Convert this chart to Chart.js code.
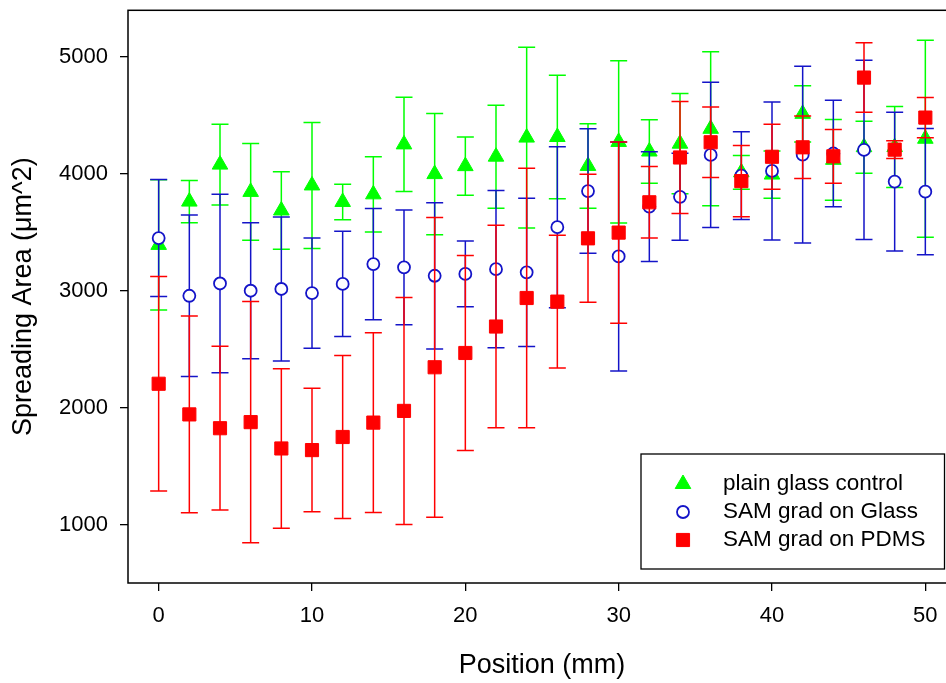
<!DOCTYPE html>
<html>
<head>
<meta charset="utf-8">
<script src="https://cdn.jsdelivr.net/npm/chart.js@4/dist/chart.umd.min.js"></script>
<style>
  html, body { margin: 0; padding: 0; background: #fff; overflow: hidden; }
  #contenedor { position: relative; width: 946px; height: 683px; }
</style>
</head>
<body>
<div id="contenedor"><canvas id="graficoArea"></canvas></div>
<script>
// posiciones (mm)
const posiciones = [0, 2, 4, 6, 8, 10, 12, 14, 16, 18, 20, 22, 24, 26, 28, 30, 32, 34, 36, 38, 40, 42, 44, 46, 48, 50];

// plain glass control
const vidrioMedia = [3395, 3765, 4081, 3848, 3689, 3903, 3762, 3827, 4254, 4000, 4068, 4149, 4312, 4317, 4070, 4275, 4193, 4260, 4387, 4015, 3996, 4515, 4122, 4230, 4231, 4302];
const vidrioError = [557, 180, 346, 414, 332, 538, 152, 322, 403, 518, 248, 440, 773, 528, 361, 694, 271, 428, 658, 145, 202, 240, 345, 222, 346, 842];

// SAM grad on Glass
const samVidrioMedia = [3453, 2960, 3065, 3003, 3018, 2983, 3061, 3231, 3203, 3131, 3147, 3187, 3160, 3546, 3855, 3296, 3722, 3806, 4164, 3987, 4027, 4166, 4176, 4207, 3936, 3850];
const samVidrioError = [500, 690, 763, 582, 615, 471, 450, 475, 490, 625, 281, 672, 634, 688, 532, 979, 469, 372, 621, 375, 590, 755, 455, 765, 593, 540];

// SAM grad on PDMS
const samPdmsMedia = [2208, 1946, 1828, 1880, 1655, 1641, 1753, 1876, 1976, 2349, 2471, 2697, 2941, 2910, 3451, 3500, 3759, 4142, 4272, 3940, 4148, 4229, 4152, 4825, 4209, 4483];
const samPdmsError = [917, 841, 700, 1031, 681, 528, 696, 769, 970, 1281, 833, 865, 1109, 568, 547, 775, 305, 478, 302, 305, 277, 267, 230, 297, 76, 172];

const etiquetas = ["plain glass control", "SAM grad on Glass", "SAM grad on PDMS"];
const ticksX = [0, 10, 20, 30, 40, 50];
const ticksY = [1000, 2000, 3000, 4000, 5000];

const fuente = "'Liberation Sans', Arial, sans-serif";

function puntos(medias) {
  return posiciones.map((p, i) => ({ x: p, y: medias[i] }));
}

// el recuadro del original sigue unos px mas alla del borde derecho
const recorteDerecho = {
  id: "recorteDerecho",
  afterLayout(chart) {
    const x = chart.scales.x;
    const derecha = chart.width + 10;
    x.right = derecha;
    x.width = derecha - x.left;
    chart.chartArea.right = derecha;
    chart.chartArea.width = derecha - chart.chartArea.left;
    x.configure();
  }
};

// barras de error, se dibujan justo antes de los marcadores de cada serie
const barrasError = {
  id: "barrasError",
  beforeDatasetDraw(chart, args) {
    const ds = chart.data.datasets[args.index];
    const { ctx, scales: { x, y } } = chart;
    ctx.save();
    ctx.strokeStyle = ds.borderColor;
    ctx.lineWidth = 1.5;
    ds.errores.forEach((e, i) => {
      const px = x.getPixelForValue(posiciones[i]);
      const arriba = y.getPixelForValue(ds.data[i].y + e);
      const abajo = y.getPixelForValue(ds.data[i].y - e);
      ctx.beginPath();
      ctx.moveTo(px, arriba);
      ctx.lineTo(px, abajo);
      ctx.moveTo(px - 8.5, arriba);
      ctx.lineTo(px + 8.5, arriba);
      ctx.moveTo(px - 8.5, abajo);
      ctx.lineTo(px + 8.5, abajo);
      ctx.stroke();
    });
    ctx.restore();
  }
};

// marco del grafico y leyenda dentro
const marcoLeyenda = {
  id: "marcoLeyenda",
  afterDraw(chart) {
    const { ctx, chartArea: a } = chart;
    ctx.save();
    ctx.strokeStyle = "#000";
    ctx.lineWidth = 1.5;
    ctx.strokeRect(a.left, a.top, a.right - a.left, a.bottom - a.top);

    const caja = { left: 641, top: 454, width: 303.5, height: 115 };
    ctx.lineWidth = 1.3;
    ctx.strokeRect(caja.left, caja.top, caja.width, caja.height);

    ctx.font = "22.5px " + fuente;
    ctx.textBaseline = "middle";
    [...chart.data.datasets].sort((a, b) => b.order - a.order).forEach((ds, i) => {
      const cy = caja.top + 30 + i * 28;
      ctx.strokeStyle = ds.borderColor;
      ctx.fillStyle = ds.backgroundColor;
      ctx.lineWidth = ds.borderWidth;
      Chart.helpers.drawPoint(ctx, {
        pointStyle: ds.pointStyle,
        radius: ds.pointRadius,
        borderWidth: ds.borderWidth,
        rotation: 0
      }, caja.left + 42, cy);
      ctx.fillStyle = "#000";
      ctx.fillText(ds.label, caja.left + 82, cy);
    });
    ctx.restore();
  }
};

const ctx = document.getElementById("graficoArea").getContext("2d");

new Chart(ctx, {
  type: "scatter",
  data: {
    datasets: [
      {
        label: etiquetas[0],
        data: puntos(vidrioMedia),
        errores: vidrioError,
        pointStyle: "triangle",
        pointRadius: 9,
        borderWidth: 1,
        borderColor: "#00ff00",
        backgroundColor: "#00ff00",
        order: 3
      },
      {
        label: etiquetas[1],
        data: puntos(samVidrioMedia),
        errores: samVidrioError,
        pointStyle: "circle",
        pointRadius: 6,
        borderWidth: 1.8,
        borderColor: "#1414c8",
        backgroundColor: "#ffffff",
        order: 2
      },
      {
        label: etiquetas[2],
        data: puntos(samPdmsMedia),
        errores: samPdmsError,
        pointStyle: "rect",
        pointRadius: 9.3,
        borderWidth: 1,
        borderColor: "#ff0000",
        backgroundColor: "#ff0000",
        order: 1
      }
    ]
  },
  options: {
    responsive: true,
    maintainAspectRatio: false,
    animation: false,
    layout: { padding: { top: 7, left: 0, right: 0, bottom: 0 } },
    plugins: {
      legend: { display: false },
      tooltip: { enabled: false }
    },
    scales: {
      x: {
        type: "linear",
        min: -2,
        max: 52,
        afterFit: s => { s.height = 100; s.paddingLeft = 0; s.paddingRight = 0; },
        afterBuildTicks: s => { s.ticks = ticksX.map(v => ({ value: v })); },
        border: { display: false },
        grid: { drawOnChartArea: false, drawTicks: true, tickLength: 8, color: "#000", lineWidth: 1.3 },
        ticks: {
          padding: 12,
          color: "#000",
          font: { family: fuente, size: 22 },
          callback: v => String(v)
        },
        title: {
          display: true,
          text: "Position (mm)",
          color: "#000",
          font: { family: fuente, size: 27 },
          padding: { top: 0, bottom: 1 }
        }
      },
      y: {
        type: "linear",
        min: 505,
        max: 5400,
        afterFit: s => { s.width = 128; s.paddingTop = 0; s.paddingBottom = 0; },
        afterBuildTicks: s => { s.ticks = ticksY.map(v => ({ value: v })); },
        border: { display: false },
        grid: { drawOnChartArea: false, drawTicks: true, tickLength: 8, color: "#000", lineWidth: 1.3 },
        ticks: {
          padding: 12,
          color: "#000",
          font: { family: fuente, size: 22 },
          callback: v => String(v)
        },
        title: {
          display: true,
          text: "Spreading Area (\u03bcm^2)",
          color: "#000",
          font: { family: fuente, size: 27 },
          padding: { top: 7, bottom: 0 }
        }
      }
    }
  },
  plugins: [recorteDerecho, barrasError, marcoLeyenda]
});
</script>
</body>
</html>
